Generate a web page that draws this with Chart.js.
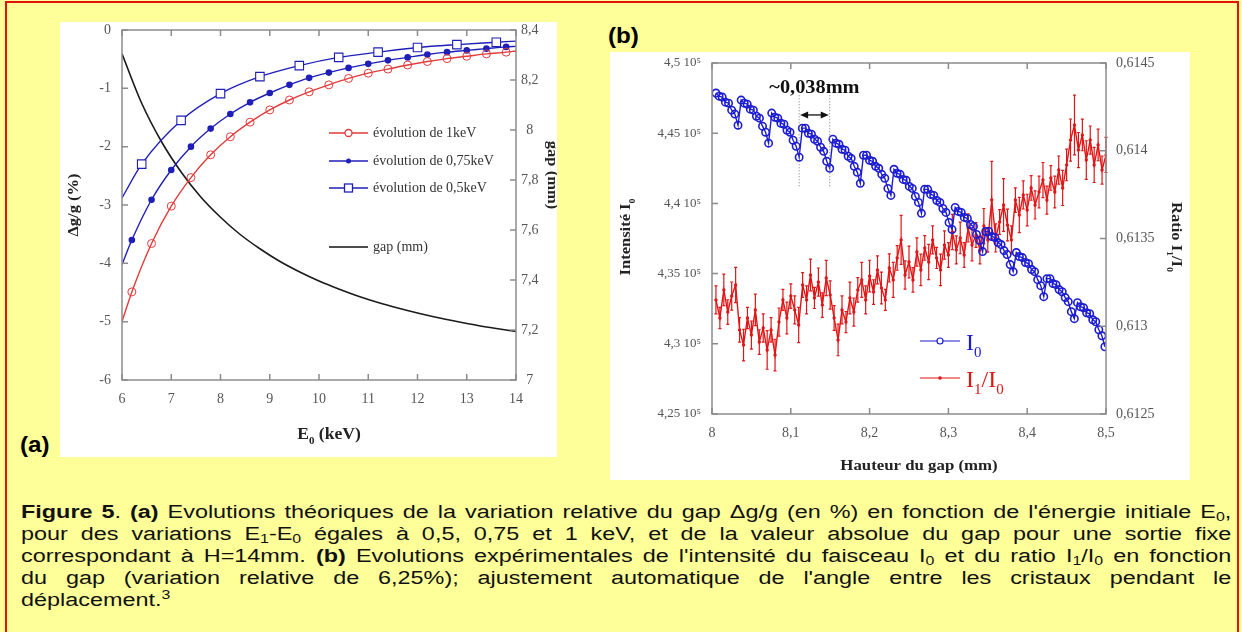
<!DOCTYPE html>
<html>
<head>
<meta charset="utf-8">
<title>Figure 5</title>
<script src="https://cdn.jsdelivr.net/npm/chart.js"></script>
<style>
  body { margin: 0; width: 1242px; height: 632px; overflow: hidden; background: #FFFF99; position: relative; font-family: "Liberation Sans", Arial, sans-serif; }
  #frame { position: absolute; left: 5px; top: 1px; width: 1234px; height: 660px; border: 2px solid #e31212; box-sizing: border-box; }
  canvas { position: absolute; background: #fff; }
  #chartA { left: 60px; top: 22px; }
  #chartB { left: 610px; top: 52px; }
  .tag { position: absolute; font: bold 22px "Liberation Sans", Arial, sans-serif; line-height: 22px; color: #000; transform: scaleX(1.1); transform-origin: 0 0; }
  #caption { position: absolute; left: 21px; top: 501px; width: 931px; font-size: 18px; line-height: 22px; color: #111; transform: scaleX(1.3); transform-origin: 0 0; }
  #caption .l { text-align: justify; text-align-last: justify; }
  #caption .last { text-align: left; }
  sub { font-size: 0.68em; vertical-align: -0.22em; line-height: 0; }
  sup { font-size: 0.68em; vertical-align: 0.6em; line-height: 0; }
</style>
</head>
<body>
<div id="frame"></div>
<canvas id="chartA" width="497" height="435"></canvas>
<canvas id="chartB" width="580" height="428"></canvas>
<div class="tag" style="left:20px; top:434px;">(a)</div>
<div class="tag" style="left:608px; top:25px;">(b)</div>
<div id="caption">
  <div class="l"><b>Figure 5</b>. <b>(a)</b> Evolutions théoriques de la variation relative du gap &#916;g/g (en %) en fonction de l'énergie initiale E<sub>0</sub>,</div>
  <div class="l">pour des variations E<sub>1</sub>-E<sub>0</sub> égales à 0,5, 0,75 et 1 keV, et de la valeur absolue du gap pour une sortie fixe</div>
  <div class="l">correspondant à H=14mm. <b>(b)</b> Evolutions expérimentales de l'intensité du faisceau I<sub>0</sub> et du ratio I<sub>1</sub>/I<sub>0</sub> en fonction</div>
  <div class="l">du gap (variation relative de 6,25%); ajustement automatique de l'angle entre les cristaux pendant le</div>
  <div class="last">déplacement.<sup>3</sup></div>
</div>

<script>
// ---- (a) theoretical curves ----
const eMarks = [6, 6.2, 6.6, 7.0, 7.4, 7.8, 8.2, 8.6, 9.0, 9.4, 9.8, 10.2, 10.6, 11.0, 11.4, 11.8, 12.2, 12.6, 13.0, 13.4, 13.8, 14];
const dg1keV = [-5.00, -4.49, -3.66, -3.02, -2.53, -2.14, -1.83, -1.58, -1.37, -1.20, -1.06, -0.94, -0.83, -0.74, -0.67, -0.60, -0.54, -0.49, -0.45, -0.41, -0.38, -0.36];
const dg075keV = [-4.02, -3.60, -2.91, -2.40, -2.00, -1.69, -1.44, -1.24, -1.08, -0.94, -0.82, -0.73, -0.65, -0.58, -0.52, -0.47, -0.42, -0.38, -0.35, -0.32, -0.29, -0.28];
const eHalf = [6, 6.4, 7.2, 8.0, 8.8, 9.6, 10.4, 11.2, 12.0, 12.8, 13.6, 14];
const dg05keV = [-2.88, -2.30, -1.55, -1.09, -0.80, -0.61, -0.47, -0.38, -0.30, -0.25, -0.21, -0.19];
const eGap = [6, 6.4, 6.8, 7.2, 7.6, 8.0, 8.4, 8.8, 9.2, 9.6, 10, 10.4, 10.8, 11.2, 11.6, 12, 12.4, 12.8, 13.2, 13.6, 14];
const gapMm = [8.305, 8.107, 7.954, 7.832, 7.732, 7.651, 7.582, 7.525, 7.475, 7.433, 7.396, 7.364, 7.335, 7.310, 7.288, 7.268, 7.250, 7.234, 7.219, 7.206, 7.194];
const energyTicks = [6, 7, 8, 9, 10, 11, 12, 13, 14];
const dgTicks = [-6, -5, -4, -3, -2, -1, 0];
const gapTicks = [7, 7.2, 7.4, 7.6, 7.8, 8, 8.2, 8.4];

// ---- (b) measured data ----
const posI0 = [8.005, 8.009, 8.013, 8.017, 8.021, 8.025, 8.029, 8.033,
  8.0370, 8.0409, 8.0447, 8.0486, 8.0525, 8.0564, 8.0602, 8.0641, 8.0680, 8.0718,
  8.0758, 8.0797, 8.0835, 8.0874, 8.0913, 8.0952, 8.0990, 8.1029, 8.1068, 8.1106,
  8.1146, 8.1185, 8.1223, 8.1262, 8.1301, 8.1340, 8.1378, 8.1417, 8.1456, 8.1494,
  8.1534, 8.1573, 8.1611, 8.1650, 8.1689, 8.1728, 8.1766, 8.1805, 8.1844, 8.1882,
  8.1922, 8.1961, 8.1999, 8.2038, 8.2077, 8.2116, 8.2154, 8.2193, 8.2232, 8.2270,
  8.2310, 8.2349, 8.2387, 8.2426, 8.2465, 8.2504, 8.2542, 8.2581, 8.2620, 8.2658,
  8.2698, 8.2737, 8.2775, 8.2814, 8.2853, 8.2892, 8.2930, 8.2969, 8.3008, 8.3046,
  8.3086, 8.3125, 8.3163, 8.3202, 8.3241, 8.3280, 8.3318, 8.3357, 8.3396, 8.3434,
  8.3474, 8.3513, 8.3551, 8.3590, 8.3629, 8.3668, 8.3706, 8.3745, 8.3784, 8.3822,
  8.3862, 8.3901, 8.3939, 8.3978, 8.4017, 8.4056, 8.4094, 8.4133, 8.4172, 8.4210,
  8.4250, 8.4289, 8.4327, 8.4366, 8.4405, 8.4444, 8.4482, 8.4521, 8.4560, 8.4598,
  8.4638, 8.4677, 8.4715, 8.4754, 8.4793, 8.4832, 8.4870, 8.4909, 8.4948, 8.4986];
// intensity I0 in units of 10^5
const intensityI0 = [4.4786, 4.4764, 4.4757, 4.4721, 4.4714, 4.4664, 4.4636, 4.4557,
  4.4736, 4.4714, 4.4707, 4.4671, 4.4664, 4.4621, 4.4607, 4.4550, 4.4507, 4.4429,
  4.4643, 4.4614, 4.4607, 4.4571, 4.4564, 4.4521, 4.4507, 4.4450, 4.4407, 4.4329,
  4.4536, 4.4536, 4.4500, 4.4493, 4.4457, 4.4443, 4.4400, 4.4371, 4.4300, 4.4250,
  4.4457, 4.4429, 4.4421, 4.4386, 4.4379, 4.4336, 4.4321, 4.4264, 4.4221, 4.4143,
  4.4343, 4.4343, 4.4307, 4.4300, 4.4264, 4.4250, 4.4207, 4.4179, 4.4107, 4.4057,
  4.4243, 4.4214, 4.4207, 4.4171, 4.4164, 4.4121, 4.4107, 4.4050, 4.4007, 4.3929,
  4.4100, 4.4100, 4.4064, 4.4057, 4.4021, 4.4007, 4.3964, 4.3936, 4.3864, 4.3814,
  4.3971, 4.3943, 4.3936, 4.3900, 4.3893, 4.3850, 4.3836, 4.3779, 4.3736, 4.3657,
  4.3800, 4.3800, 4.3764, 4.3757, 4.3721, 4.3707, 4.3664, 4.3636, 4.3564, 4.3514,
  4.3650, 4.3621, 4.3614, 4.3579, 4.3571, 4.3529, 4.3514, 4.3457, 4.3414, 4.3336,
  4.3464, 4.3464, 4.3429, 4.3421, 4.3386, 4.3371, 4.3329, 4.3300, 4.3229, 4.3179,
  4.3293, 4.3264, 4.3257, 4.3221, 4.3214, 4.3171, 4.3157, 4.3100, 4.3057, 4.2979];
const posRatio = [8.005, 8.010, 8.015, 8.020, 8.025, 8.030, 8.035, 8.040, 8.045, 8.050,
  8.055, 8.060, 8.065, 8.070, 8.075, 8.080, 8.085, 8.090, 8.095, 8.100,
  8.105, 8.110, 8.115, 8.120, 8.125, 8.130, 8.135, 8.140, 8.145, 8.150,
  8.155, 8.160, 8.165, 8.170, 8.175, 8.180, 8.185, 8.190, 8.195, 8.200,
  8.205, 8.210, 8.215, 8.220, 8.225, 8.230, 8.235, 8.240, 8.245, 8.250,
  8.255, 8.260, 8.265, 8.270, 8.275, 8.280, 8.285, 8.290, 8.295, 8.300,
  8.305, 8.310, 8.315, 8.320, 8.325, 8.330, 8.335, 8.340, 8.345, 8.350,
  8.355, 8.360, 8.365, 8.370, 8.375, 8.380, 8.385, 8.390, 8.395, 8.400,
  8.405, 8.410, 8.415, 8.420, 8.425, 8.430, 8.435, 8.440, 8.445, 8.450,
  8.455, 8.460, 8.465, 8.470, 8.475, 8.480, 8.485, 8.490, 8.495, 8.500];
const ratioI1I0 = [0.613150, 0.613047, 0.613207, 0.613081, 0.613172, 0.613235, 0.612979, 0.612893, 0.613047, 0.612950,
  0.613093, 0.612910, 0.612990, 0.612865, 0.612979, 0.612836, 0.613024, 0.613150, 0.613047, 0.613172,
  0.613093, 0.613007, 0.613235, 0.613150, 0.613292, 0.613161, 0.613252, 0.613121, 0.613275, 0.613178,
  0.613047, 0.612922, 0.613093, 0.613024, 0.613161, 0.613081, 0.613207, 0.613264, 0.613150, 0.613286,
  0.613195, 0.613321, 0.613218, 0.613150, 0.613332, 0.613264, 0.613389, 0.613492, 0.613292, 0.613366,
  0.613264, 0.613423, 0.613321, 0.613446, 0.613366, 0.613492, 0.613389, 0.613321, 0.613463, 0.613406,
  0.613537, 0.613435, 0.613503, 0.613406, 0.613560, 0.613463, 0.613520, 0.613435, 0.613571, 0.613492,
  0.613719, 0.613503, 0.613594, 0.613691, 0.613577, 0.613492, 0.613719, 0.613634, 0.613748, 0.613662,
  0.613788, 0.613691, 0.613765, 0.613833, 0.613719, 0.613845, 0.613765, 0.613890, 0.613788, 0.613919,
  0.614061, 0.614147, 0.614004, 0.614090, 0.613947, 0.614061, 0.613919, 0.614033, 0.613890, 0.613976];
const ratioErr = [0.00008, 0.00006, 0.00009, 0.00007, 0.00008, 0.00010, 0.00007, 0.00009, 0.00006, 0.00008,
  0.00009, 0.00007, 0.00008, 0.00011, 0.00007, 0.00009, 0.00008, 0.00006, 0.00009, 0.00007,
  0.00008, 0.00010, 0.00007, 0.00008, 0.00009, 0.00006, 0.00008, 0.00007, 0.00010, 0.00008,
  0.00007, 0.00009, 0.00008, 0.00006, 0.00009, 0.00008, 0.00007, 0.00010, 0.00008, 0.00009,
  0.00007, 0.00008, 0.00009, 0.00006, 0.00008, 0.00010, 0.00007, 0.00014, 0.00008, 0.00009,
  0.00007, 0.00008, 0.00009, 0.00007, 0.00010, 0.00008, 0.00006, 0.00009, 0.00008, 0.00007,
  0.00010, 0.00008, 0.00009, 0.00007, 0.00008, 0.00009, 0.00007, 0.00008, 0.00010, 0.00007,
  0.00022, 0.00008, 0.00007, 0.00015, 0.00009, 0.00008, 0.00007, 0.00010, 0.00008, 0.00009,
  0.00007, 0.00008, 0.00009, 0.00010, 0.00008, 0.00007, 0.00009, 0.00008, 0.00010, 0.00009,
  0.00012, 0.00017, 0.00010, 0.00009, 0.00011, 0.00008, 0.00010, 0.00009, 0.00008, 0.00010];
const gapPosTicks = [8, 8.1, 8.2, 8.3, 8.4, 8.5];
const i0Ticks = [4.25, 4.3, 4.35, 4.4, 4.45, 4.5];
const ratioTicks = [0.6125, 0.613, 0.6135, 0.614, 0.6145];
// period marker "~0,038mm" between two dips of I0
const periodMarks = [8.1106, 8.1494];

const RED_A = '#e23b3b', BLUE_A = '#1f1fb8', RED_B = '#e01515', BLUE_B = '#1c1cd0';
const SERIF = '"Liberation Serif", "Times New Roman", serif';
Chart.defaults.font.family = SERIF;
Chart.defaults.color = '#444';

function toXY(xs, ys) { return xs.map((x, i) => ({ x: x, y: ys[i] })); }
// no marker on the two end points of a curve
function innerRadius(xs, r) { return xs.map((x, i) => (i === 0 || i === xs.length - 1) ? 0 : r); }
function fixTicks(list) { return function (scale) { scale.ticks = list.map(v => ({ value: v })); }; }
function comma(v) { return String(v).replace('.', ','); }
// fixed axis size, and no extra room for overflowing labels
function fitTo(w, h) {
  return function (s) {
    if (w) s.width = w;
    if (h) s.height = h;
    s.paddingTop = 0; s.paddingBottom = 0; s.paddingLeft = 0; s.paddingRight = 0;
  };
}

function fontOf(p, size) {
  const s = p.sub ? Math.round(size * 0.62) : size;
  return (p.bold ? 'bold ' : '') + s + 'px ' + SERIF;
}
// text with subscripts, centred on x; rot in radians, sx = horizontal stretch
function drawRich(ctx, parts, x, y, size, color, rot, sx) {
  ctx.save();
  ctx.translate(x, y);
  if (rot) ctx.rotate(rot);
  if (sx) ctx.scale(sx, 1);
  ctx.fillStyle = color;
  ctx.textAlign = 'left';
  ctx.textBaseline = 'alphabetic';
  let w = 0;
  parts.forEach(p => { ctx.font = fontOf(p, size); w += ctx.measureText(p.t).width; });
  let cx = -w / 2;
  const base = rot ? size * 0.35 : 0;
  parts.forEach(p => {
    ctx.font = fontOf(p, size);
    ctx.fillText(p.t, cx, base + (p.sub ? size * 0.3 : 0));
    cx += ctx.measureText(p.t).width;
  });
  ctx.restore();
}

// plot box with inward ticks on every side
const frameTicks = {
  id: 'frameTicks',
  afterDatasetsDraw(chart, args, opts) {
    const ctx = chart.ctx, a = chart.chartArea;
    ctx.save();
    ctx.strokeStyle = opts.color;
    ctx.lineWidth = opts.width;
    ctx.strokeRect(a.left, a.top, a.right - a.left, a.bottom - a.top);
    ctx.beginPath();
    Object.values(chart.scales).forEach(s => {
      s.ticks.forEach(t => {
        const p = s.getPixelForValue(t.value);
        if (s.axis === 'x') {
          ctx.moveTo(p, a.bottom); ctx.lineTo(p, a.bottom - opts.len);
          ctx.moveTo(p, a.top); ctx.lineTo(p, a.top + opts.len);
        } else if (s.position === 'left') {
          ctx.moveTo(a.left, p); ctx.lineTo(a.left + opts.len, p);
        } else {
          ctx.moveTo(a.right, p); ctx.lineTo(a.right - opts.len, p);
        }
      });
    });
    ctx.stroke();
    ctx.restore();
  }
};

// ---------------- chart (a) ----------------
const legendA = [
  { text: 'évolution de 1keV', color: RED_A, mark: 'circle' },
  { text: 'évolution de 0,75keV', color: BLUE_A, mark: 'dot' },
  { text: 'évolution de 0,5keV', color: BLUE_A, mark: 'square' },
  { text: 'gap (mm)', color: '#111', mark: null }
];
const legendRowsA = [103, 131, 158, 217];

const decorA = {
  id: 'decorA',
  afterDraw(chart) {
    const ctx = chart.ctx, a = chart.chartArea;
    drawRich(ctx, [{ t: '\u0394g/g (%)', bold: true }], a.left - 49, (a.top + a.bottom) / 2, 15, '#222', -Math.PI / 2, 1.1);
    drawRich(ctx, [{ t: 'gap (mm)', bold: true }], a.right + 37, a.top + 145, 15, '#222', Math.PI / 2, 1.1);
    drawRich(ctx, [{ t: 'E', bold: true }, { t: '0', bold: true, sub: true }, { t: ' (keV)', bold: true }], a.left + 207, a.bottom + 59, 16, '#222', 0, 1.1);
    // legend
    legendA.forEach((item, i) => {
      const y = a.top + legendRowsA[i], x0 = a.left + 207, x1 = x0 + 39, xm = (x0 + x1) / 2;
      ctx.save();
      ctx.strokeStyle = item.color;
      ctx.lineWidth = 1.3;
      ctx.beginPath(); ctx.moveTo(x0, y); ctx.lineTo(x1, y); ctx.stroke();
      ctx.fillStyle = '#fff';
      if (item.mark === 'circle') { ctx.beginPath(); ctx.arc(xm, y, 3.5, 0, 2 * Math.PI); ctx.fill(); ctx.stroke(); }
      if (item.mark === 'square') { ctx.fillRect(xm - 4, y - 4, 8, 8); ctx.strokeRect(xm - 4, y - 4, 8, 8); }
      if (item.mark === 'dot') { ctx.fillStyle = item.color; ctx.beginPath(); ctx.arc(xm, y, 2.5, 0, 2 * Math.PI); ctx.fill(); }
      ctx.fillStyle = '#333';
      ctx.font = '14px ' + SERIF;
      ctx.textBaseline = 'middle';
      ctx.fillText(item.text, x1 + 5, y);
      ctx.restore();
    });
  }
};

new Chart(document.getElementById('chartA').getContext('2d'), {
  type: 'line',
  data: {
    datasets: [
      { data: toXY(eMarks, dg1keV), yAxisID: 'y', borderColor: RED_A, borderWidth: 1.4,
        pointStyle: 'circle', pointRadius: innerRadius(eMarks, 4), pointBorderColor: RED_A, pointBorderWidth: 1,
        pointBackgroundColor: 'rgba(255,255,255,0)', cubicInterpolationMode: 'monotone' },
      { data: toXY(eMarks, dg075keV), yAxisID: 'y', borderColor: BLUE_A, borderWidth: 1.4,
        pointStyle: 'circle', pointRadius: innerRadius(eMarks, 2.6), pointBorderColor: BLUE_A,
        pointBackgroundColor: BLUE_A, cubicInterpolationMode: 'monotone' },
      { data: toXY(eHalf, dg05keV), yAxisID: 'y', borderColor: BLUE_A, borderWidth: 1.4,
        pointStyle: 'rect', pointRadius: innerRadius(eHalf, 6), pointBorderColor: BLUE_A, pointBorderWidth: 1.1,
        pointBackgroundColor: '#fff', cubicInterpolationMode: 'monotone' },
      { data: toXY(eGap, gapMm), yAxisID: 'y2', borderColor: '#1a1a1a', borderWidth: 1.6,
        pointRadius: 0, cubicInterpolationMode: 'monotone' }
    ]
  },
  options: {
    responsive: false,
    animation: false,
    layout: { padding: { top: 8, left: 0, right: 0, bottom: 0 } },
    plugins: { legend: { display: false }, tooltip: { enabled: false },
      frameTicks: { color: '#8c8c8c', width: 1.5, len: 6 } },
    scales: {
      x: { type: 'linear', min: 6, max: 14, afterBuildTicks: fixTicks(energyTicks),
        afterFit: fitTo(0, 77),
        grid: { display: false, drawTicks: false }, border: { display: false },
        ticks: { padding: 11, font: { size: 14 }, color: '#555' } },
      y: { type: 'linear', position: 'left', min: -6, max: 0, afterBuildTicks: fixTicks(dgTicks),
        afterFit: fitTo(62, 0),
        grid: { display: false, drawTicks: false }, border: { display: false },
        ticks: { padding: 11, font: { size: 14 }, color: '#555' } },
      y2: { type: 'linear', position: 'right', min: 7, max: 8.4, afterBuildTicks: fixTicks(gapTicks),
        afterFit: fitTo(41, 0),
        grid: { display: false, drawTicks: false }, border: { display: false },
        ticks: { padding: 5, crossAlign: 'center', font: { size: 14 }, color: '#555', callback: v => comma(v) } }
    }
  },
  plugins: [frameTicks, decorA]
});

// ---------------- chart (b) ----------------
const errorBars = {
  id: 'errorBars',
  beforeDatasetsDraw(chart) {
    const meta = chart.getDatasetMeta(1), ys = chart.scales.y2, ctx = chart.ctx;
    ctx.save();
    ctx.strokeStyle = RED_B;
    ctx.lineWidth = 1.2;
    ctx.beginPath();
    meta.data.forEach((pt, i) => {
      const top = ys.getPixelForValue(ratioI1I0[i] + ratioErr[i]);
      const bot = ys.getPixelForValue(ratioI1I0[i] - ratioErr[i]);
      ctx.moveTo(pt.x, top); ctx.lineTo(pt.x, bot);
      ctx.moveTo(pt.x - 1.5, top); ctx.lineTo(pt.x + 1.5, top);
      ctx.moveTo(pt.x - 1.5, bot); ctx.lineTo(pt.x + 1.5, bot);
    });
    ctx.stroke();
    ctx.restore();
  }
};

const decorB = {
  id: 'decorB',
  afterDraw(chart) {
    const ctx = chart.ctx, a = chart.chartArea, xs = chart.scales.x, ys = chart.scales.y;
    drawRich(ctx, [{ t: 'Intensité I', bold: true }, { t: '0', bold: true, sub: true }], a.left - 87, a.top + 174, 15, '#222', -Math.PI / 2, 1.1);
    drawRich(ctx, [{ t: 'Ratio I', bold: true }, { t: '1', bold: true, sub: true }, { t: '/I', bold: true }, { t: '0', bold: true, sub: true }], a.right + 71, a.top + 174, 15, '#222', Math.PI / 2, 1.1);
    drawRich(ctx, [{ t: 'Hauteur du gap (mm)', bold: true }], a.left + 207, a.bottom + 56, 15, '#222', 0, 1.12);

    // period annotation
    const xl = xs.getPixelForValue(periodMarks[0]), xr = xs.getPixelForValue(periodMarks[1]);
    ctx.save();
    ctx.strokeStyle = '#777';
    ctx.lineWidth = 1;
    ctx.setLineDash([1, 2]);
    ctx.beginPath();
    [xl, xr].forEach(x => { ctx.moveTo(x, ys.getPixelForValue(4.477)); ctx.lineTo(x, ys.getPixelForValue(4.411)); });
    ctx.stroke();
    ctx.setLineDash([]);
    const ya = ys.getPixelForValue(4.463);
    ctx.strokeStyle = '#111'; ctx.fillStyle = '#111'; ctx.lineWidth = 1.3;
    ctx.beginPath(); ctx.moveTo(xl + 5, ya); ctx.lineTo(xr - 5, ya); ctx.stroke();
    ctx.beginPath(); ctx.moveTo(xl + 1, ya); ctx.lineTo(xl + 9, ya - 3.5); ctx.lineTo(xl + 9, ya + 3.5); ctx.closePath(); ctx.fill();
    ctx.beginPath(); ctx.moveTo(xr - 1, ya); ctx.lineTo(xr - 9, ya - 3.5); ctx.lineTo(xr - 9, ya + 3.5); ctx.closePath(); ctx.fill();
    ctx.restore();
    drawRich(ctx, [{ t: '~0,038mm', bold: true }], (xl + xr) / 2, ys.getPixelForValue(4.4786), 18, '#111', 0, 1.13);

    // legend
    const rows = [
      { y: a.top + 278, color: BLUE_B, parts: [{ t: 'I' }, { t: '0', sub: true }], open: true },
      { y: a.top + 315, color: RED_B, parts: [{ t: 'I' }, { t: '1', sub: true }, { t: '/I' }, { t: '0', sub: true }], open: false }
    ];
    rows.forEach(r => {
      const x0 = a.left + 208, x1 = x0 + 40, xm = (x0 + x1) / 2;
      ctx.save();
      ctx.strokeStyle = r.color; ctx.lineWidth = 1.2;
      ctx.beginPath(); ctx.moveTo(x0, r.y); ctx.lineTo(x1, r.y); ctx.stroke();
      ctx.beginPath(); ctx.arc(xm, r.y, r.open ? 3 : 1.8, 0, 2 * Math.PI);
      if (r.open) { ctx.fillStyle = '#fff'; ctx.fill(); ctx.stroke(); } else { ctx.fillStyle = r.color; ctx.fill(); }
      ctx.restore();
      let w = 0;
      r.parts.forEach(p => { ctx.font = fontOf(p, 24); w += ctx.measureText(p.t).width; });
      drawRich(ctx, r.parts, x1 + 6 + w / 2, r.y + 9, 24, r.color);
    });
  }
};

new Chart(document.getElementById('chartB').getContext('2d'), {
  type: 'line',
  data: {
    datasets: [
      { data: toXY(posI0, intensityI0), yAxisID: 'y', borderColor: BLUE_B, borderWidth: 1.4,
        pointStyle: 'circle', pointRadius: 3.7, pointBorderWidth: 1.6, pointBorderColor: BLUE_B,
        pointBackgroundColor: 'rgba(255,255,255,0)' },
      { data: toXY(posRatio, ratioI1I0), yAxisID: 'y2', borderColor: RED_B, borderWidth: 1.4,
        pointStyle: 'circle', pointRadius: 1.7, pointBorderWidth: 0, pointBackgroundColor: RED_B }
    ]
  },
  options: {
    responsive: false,
    animation: false,
    layout: { padding: { top: 11, left: 0, right: 0, bottom: 0 } },
    plugins: { legend: { display: false }, tooltip: { enabled: false },
      frameTicks: { color: '#8c8c8c', width: 1.5, len: 6 } },
    scales: {
      x: { type: 'linear', min: 8, max: 8.5, afterBuildTicks: fixTicks(gapPosTicks),
        afterFit: fitTo(0, 66),
        grid: { display: false, drawTicks: false }, border: { display: false },
        ticks: { padding: 11, font: { size: 14 }, color: '#555', callback: v => comma(v) } },
      y: { type: 'linear', position: 'left', min: 4.25, max: 4.5, afterBuildTicks: fixTicks(i0Ticks),
        afterFit: fitTo(102, 0),
        grid: { display: false, drawTicks: false }, border: { display: false },
        ticks: { padding: 11, font: { size: 13 }, color: '#555', callback: v => comma(v) + ' 10\u2075' } },
      y2: { type: 'linear', position: 'right', min: 0.6125, max: 0.6145, afterBuildTicks: fixTicks(ratioTicks),
        afterFit: fitTo(84, 0),
        grid: { display: false, drawTicks: false }, border: { display: false },
        ticks: { padding: 10, font: { size: 14 }, color: '#555', callback: v => comma(v) } }
    }
  },
  plugins: [errorBars, frameTicks, decorB]
});
</script>
</body>
</html>
